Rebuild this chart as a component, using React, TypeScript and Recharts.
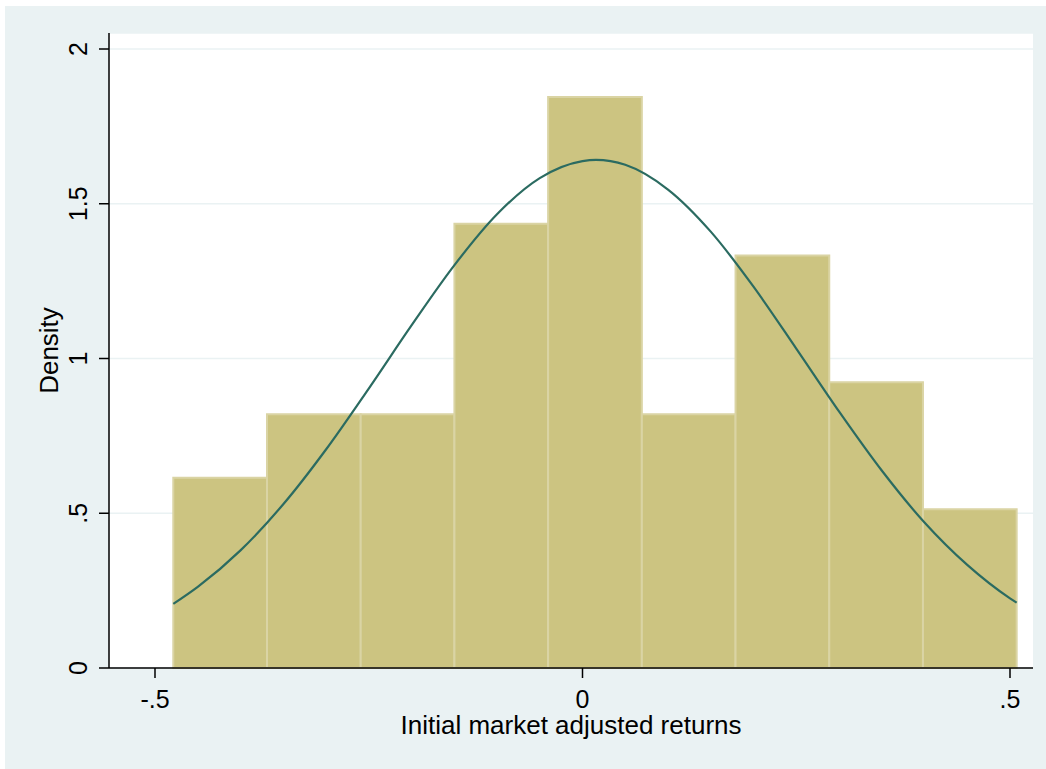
import React from 'react';
import {
  ComposedChart,
  Line,
  XAxis,
  YAxis,
  CartesianGrid,
  ReferenceArea,
  Label,
} from 'recharts';

// histogram bins (edges) and their densities
const binEdges = [-0.4786, -0.369, -0.2594, -0.1498, -0.0402, 0.0694, 0.179, 0.2886, 0.3982, 0.5078];
const binDensity = [0.615, 0.82, 0.82, 1.435, 1.845, 0.82, 1.333, 0.923, 0.513];

// normal density overlay
const curveX = [
  -0.4786, -0.45, -0.4, -0.35, -0.3, -0.25, -0.2, -0.15, -0.1, -0.05, 0, 0.0158,
  0.05, 0.1, 0.15, 0.2, 0.25, 0.3, 0.35, 0.4, 0.45, 0.5, 0.5078,
];
const curveY = [
  0.207, 0.262, 0.38, 0.529, 0.706, 0.903, 1.107, 1.301, 1.466, 1.583, 1.638, 1.642,
  1.626, 1.546, 1.41, 1.232, 1.032, 0.829, 0.638, 0.47, 0.333, 0.225, 0.211,
];

const xTicks = [-0.5, 0, 0.5];
const yTicks = [0, 0.5, 1, 1.5, 2];

const FONT = '"Liberation Sans", Arial, Helvetica, sans-serif';
const BG = '#EAF2F3';
const BAR_FILL = '#CCC481';
const BAR_EDGE = '#DAD4A4';
const LINE_COLOR = '#2B6B61';

const curveData = curveX.map((x, i) => ({ x, density: curveY[i] }));

// Stata-style labels: drop the leading zero
const fmt = (v: number) => (v === 0 ? '0' : String(v).replace(/^(-?)0\./, '$1.'));

const XTick = (props: any) => {
  const { x, y, payload } = props;
  return (
    <text x={x} y={y} dy={18} textAnchor="middle" fontSize={25} fontFamily={FONT} fill="#000">
      {fmt(payload.value)}
    </text>
  );
};

const YTick = (props: any) => {
  const { x, y, payload } = props;
  return (
    <text
      x={x}
      y={y}
      transform={`rotate(-90 ${x} ${y})`}
      textAnchor="middle"
      fontSize={25}
      fontFamily={FONT}
      fill="#000"
    >
      {fmt(payload.value)}
    </text>
  );
};

const axisStroke = { stroke: '#000', strokeWidth: 1.5 };

export default function App() {
  return (
    <div style={{ position: 'relative', width: 1046, height: 769, background: '#fff' }}>
      <style>{'body{margin:0}'}</style>
      <div style={{ position: 'absolute', left: 5, top: 6, right: 0, bottom: 0, background: BG }} />
      <div style={{ position: 'absolute', left: 0, top: 0 }}>
        <ComposedChart
          width={1046}
          height={769}
          data={curveData}
          margin={{ top: 33, right: 13, bottom: 0, left: 0 }}
        >
          <CartesianGrid vertical={false} stroke={BG} strokeWidth={1.5} fill="#fff" fillOpacity={1} />
          <XAxis
            dataKey="x"
            type="number"
            domain={[-0.5538, 0.5269]}
            ticks={xTicks}
            allowDataOverflow
            height={101}
            tickSize={10}
            tickMargin={12}
            axisLine={axisStroke}
            tickLine={axisStroke}
            tick={<XTick />}
          >
            <Label
              content={({ viewBox }: any) => (
                <text
                  x={viewBox.x + viewBox.width / 2}
                  y={viewBox.y + 66}
                  textAnchor="middle"
                  fontSize={26}
                  fontFamily={FONT}
                  fill="#000"
                >
                  Initial market adjusted returns
                </text>
              )}
            />
          </XAxis>
          <YAxis
            type="number"
            domain={[0, 2.0517]}
            ticks={yTicks}
            allowDataOverflow
            width={109}
            tickSize={10}
            tickMargin={12}
            axisLine={axisStroke}
            tickLine={axisStroke}
            tick={<YTick />}
          >
            <Label
              content={({ viewBox }: any) => {
                const cx = 58;
                const cy = viewBox.y + viewBox.height / 2;
                return (
                  <text
                    x={cx}
                    y={cy}
                    transform={`rotate(-90 ${cx} ${cy})`}
                    textAnchor="middle"
                    fontSize={26}
                    fontFamily={FONT}
                    fill="#000"
                  >
                    Density
                  </text>
                );
              }}
            />
          </YAxis>
          {binDensity.map((d, i) => (
            <ReferenceArea
              key={i}
              x1={binEdges[i]}
              x2={binEdges[i + 1]}
              y1={0}
              y2={d}
              fill={BAR_FILL}
              fillOpacity={1}
              stroke={BAR_EDGE}
              strokeWidth={2}
              ifOverflow="visible"
            />
          ))}
          <Line
            type="monotone"
            dataKey="density"
            stroke={LINE_COLOR}
            strokeWidth={2.2}
            dot={false}
            activeDot={false}
            isAnimationActive={false}
          />
        </ComposedChart>
      </div>
    </div>
  );
}
